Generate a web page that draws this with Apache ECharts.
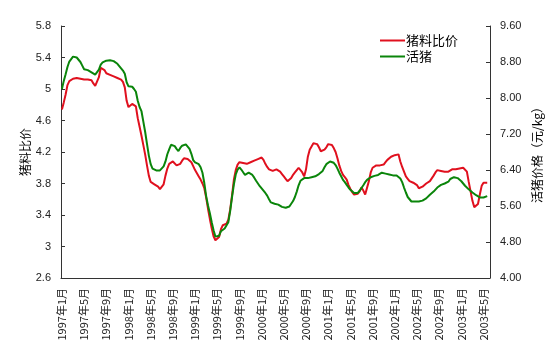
<!DOCTYPE html>
<html>
<head>
<meta charset="utf-8">
<script src="https://cdn.jsdelivr.net/npm/echarts@6/dist/echarts.min.js"></script>
<style>
  html, body { margin: 0; padding: 0; background: #fff; }
  #chart { width: 553px; height: 354px; }
</style>
</head>
<body>
<div id="chart"></div>
<script>
// 旬度数据：1997年1月上旬 起
const startYear = 1997;
const catCount = 232;
const xunNames = ["上旬", "中旬", "下旬"];
const categories = [];
for (let k = 0; k < catCount; k++) {
  const m = Math.floor(k / 3);
  categories.push((startYear + Math.floor(m / 12)) + "年" + (m % 12 + 1) + "月" + xunNames[k % 3]);
}

// 猪料比价（左轴）
const ratio = [4.74,4.83,4.93,5.05,5.10,5.12,5.13,5.14,5.14,5.13,
  5.13,5.12,5.12,5.11,5.12,5.12,5.11,5.07,5.04,5.05,
  5.15,5.27,5.28,5.24,5.20,5.19,5.18,5.17,5.16,5.15,
  5.14,5.14,5.12,5.09,5.02,4.85,4.77,4.77,4.81,4.82,
  4.78,4.63,4.52,4.41,4.29,4.17,4.03,3.90,3.82,3.81,
  3.79,3.79,3.76,3.73,3.72,3.79,3.90,3.99,4.05,4.07,
  4.08,4.06,4.03,4.01,4.05,4.09,4.12,4.13,4.11,4.09,
  4.07,4.02,3.97,3.93,3.89,3.85,3.80,3.74,3.62,3.48,
  3.35,3.23,3.13,3.08,3.07,3.12,3.22,3.27,3.27,3.29,
  3.34,3.47,3.65,3.85,3.97,4.04,4.07,4.07,4.06,4.05,
  4.05,4.05,4.07,4.09,4.09,4.10,4.11,4.13,4.13,4.10,
  4.05,4.01,3.98,3.97,3.96,3.97,3.98,3.97,3.95,3.92,
  3.89,3.86,3.83,3.85,3.87,3.91,3.94,3.97,4.00,4.00,
  3.94,3.89,3.98,4.14,4.23,4.27,4.31,4.32,4.30,4.26,
  4.21,4.22,4.23,4.26,4.30,4.29,4.29,4.25,4.20,4.12,
  4.03,3.96,3.91,3.88,3.85,3.78,3.73,3.69,3.66,3.65,
  3.67,3.70,3.75,3.71,3.66,3.67,3.83,3.94,4.00,4.02,
  4.03,4.03,4.03,4.03,4.04,4.07,4.10,4.12,4.14,4.15,
  4.16,4.16,4.17,4.08,4.01,3.95,3.89,3.86,3.83,3.82,
  3.81,3.80,3.78,3.74,3.74,3.76,3.77,3.80,3.82,3.83,
  3.85,3.90,3.94,3.97,3.96,3.96,3.95,3.95,3.95,3.95,
  3.95,3.98,3.99,3.98,3.98,3.99,3.99,4.00,4.00,3.95,
  3.82,3.70,3.58,3.50,3.48,3.54,3.66,3.77,3.81,3.81,
  3.81];

// 活猪价格 元/kg（右轴）
const hogPrice = [8.20,8.38,8.53,8.69,8.81,8.85,8.92,8.94,8.90,8.85,
  8.80,8.72,8.64,8.63,8.62,8.59,8.57,8.54,8.52,8.52,
  8.63,8.74,8.79,8.82,8.83,8.83,8.84,8.84,8.82,8.79,
  8.76,8.72,8.66,8.61,8.54,8.35,8.26,8.25,8.25,8.20,
  8.14,7.94,7.80,7.71,7.48,7.25,6.98,6.72,6.53,6.43,
  6.40,6.39,6.39,6.39,6.43,6.48,6.59,6.75,6.86,6.96,
  7.00,6.93,6.87,6.82,6.89,6.94,6.97,6.97,6.94,6.87,
  6.76,6.62,6.57,6.54,6.53,6.46,6.34,6.11,5.82,5.61,
  5.44,5.24,5.06,4.92,4.88,4.94,5.04,5.08,5.10,5.13,
  5.24,5.49,5.80,6.08,6.30,6.41,6.46,6.41,6.35,6.29,
  6.30,6.34,6.36,6.29,6.23,6.16,6.10,6.04,5.99,5.95,
  5.89,5.83,5.75,5.68,5.66,5.65,5.64,5.63,5.61,5.58,
  5.56,5.56,5.56,5.59,5.63,5.71,5.80,5.92,6.06,6.16,
  6.20,6.22,6.22,6.22,6.23,6.24,6.25,6.26,6.28,6.31,
  6.34,6.38,6.46,6.53,6.57,6.59,6.59,6.56,6.51,6.43,
  6.34,6.26,6.18,6.13,6.07,6.01,5.96,5.92,5.89,5.86,
  5.89,5.94,6.00,6.06,6.13,6.18,6.22,6.24,6.26,6.27,
  6.28,6.29,6.31,6.34,6.33,6.32,6.31,6.30,6.28,6.28,
  6.28,6.28,6.27,6.21,6.13,6.01,5.90,5.80,5.75,5.70,
  5.70,5.70,5.70,5.70,5.70,5.72,5.74,5.77,5.80,5.85,
  5.88,5.92,5.96,6.01,6.04,6.07,6.09,6.10,6.12,6.14,
  6.20,6.22,6.24,6.23,6.22,6.19,6.15,6.10,6.05,6.01,
  5.97,5.93,5.90,5.87,5.84,5.81,5.79,5.78,5.79,5.81,
  5.82];

// 左轴 2.6 起、间隔 0.4，2.6 不是 0.4 的整数倍，所以左轴从 0 计，标签加回基数
const ratioBase = 2.6;

const numFont = "Liberation Sans";
const cjkFont = "Noto Sans CJK SC";
const axisColor = "#333";

const chart = echarts.init(document.getElementById("chart"));
chart.setOption({
  animation: false,
  grid: { left: 61, right: 63, top: 26, bottom: 76, containLabel: false, outerBoundsMode: "none" },
  legend: {
    orient: "vertical",
    left: 380,
    top: 34,
    padding: 0,
    itemWidth: 25,
    itemHeight: 2,
    itemGap: 3,
    icon: "rect",
    textStyle: { fontFamily: cjkFont, fontSize: 13, color: "#000", padding: [0, 0, 0, -4] },
    data: ["猪料比价", "活猪"]
  },
  xAxis: {
    type: "category",
    data: categories,
    boundaryGap: true,
    axisLine: { lineStyle: { color: axisColor, width: 1 } },
    axisTick: { inside: true, length: 4, interval: 3, lineStyle: { color: axisColor } },
    axisLabel: {
      interval: 11,
      rotate: 90,
      margin: 10,
      fontFamily: cjkFont,
      fontSize: 11,
      color: "#222",
      formatter: (v) => v.replace(/[上中下]旬$/, "")
    },
    splitLine: { show: false }
  },
  yAxis: [
    {
      type: "value",
      min: 0,
      max: 3.2,
      interval: 0.4,
      name: "猪料比价",
      nameLocation: "middle",
      nameRotate: 90,
      nameGap: 30,
      nameMoveOverlap: false,
      nameTextStyle: { fontFamily: cjkFont, fontSize: 12, color: "#000" },
      axisLine: { show: true, lineStyle: { color: axisColor, width: 1 } },
      axisTick: { show: true, inside: true, length: 4, lineStyle: { color: axisColor } },
      axisLabel: {
        margin: 10,
        fontFamily: numFont,
        fontSize: 11,
        color: "#222",
        formatter: (v) => String(Number((v + ratioBase).toFixed(1)))
      },
      splitLine: { show: false }
    },
    {
      type: "value",
      min: 4,
      max: 9.6,
      interval: 0.8,
      position: "right",
      name: "活猪价格（元/kg）",
      nameLocation: "middle",
      nameRotate: 90,
      nameGap: 41,
      nameMoveOverlap: false,
      nameTextStyle: { fontFamily: cjkFont, fontSize: 12, color: "#000" },
      axisLine: { show: true, lineStyle: { color: axisColor, width: 1 } },
      axisTick: { show: true, inside: true, length: 4, lineStyle: { color: axisColor } },
      axisLabel: {
        margin: 10,
        fontFamily: numFont,
        fontSize: 11,
        color: "#222",
        formatter: (v) => v.toFixed(2)
      },
      splitLine: { show: false }
    }
  ],
  series: [
    {
      name: "猪料比价",
      type: "line",
      yAxisIndex: 0,
      data: ratio.map((v) => +(v - ratioBase).toFixed(2)),
      showSymbol: false,
      lineStyle: { color: "#e0101e", width: 2 },
      itemStyle: { color: "#e0101e" }
    },
    {
      name: "活猪",
      type: "line",
      yAxisIndex: 1,
      data: hogPrice,
      showSymbol: false,
      lineStyle: { color: "#0a850a", width: 2 },
      itemStyle: { color: "#0a850a" }
    }
  ]
});
</script>
</body>
</html>
